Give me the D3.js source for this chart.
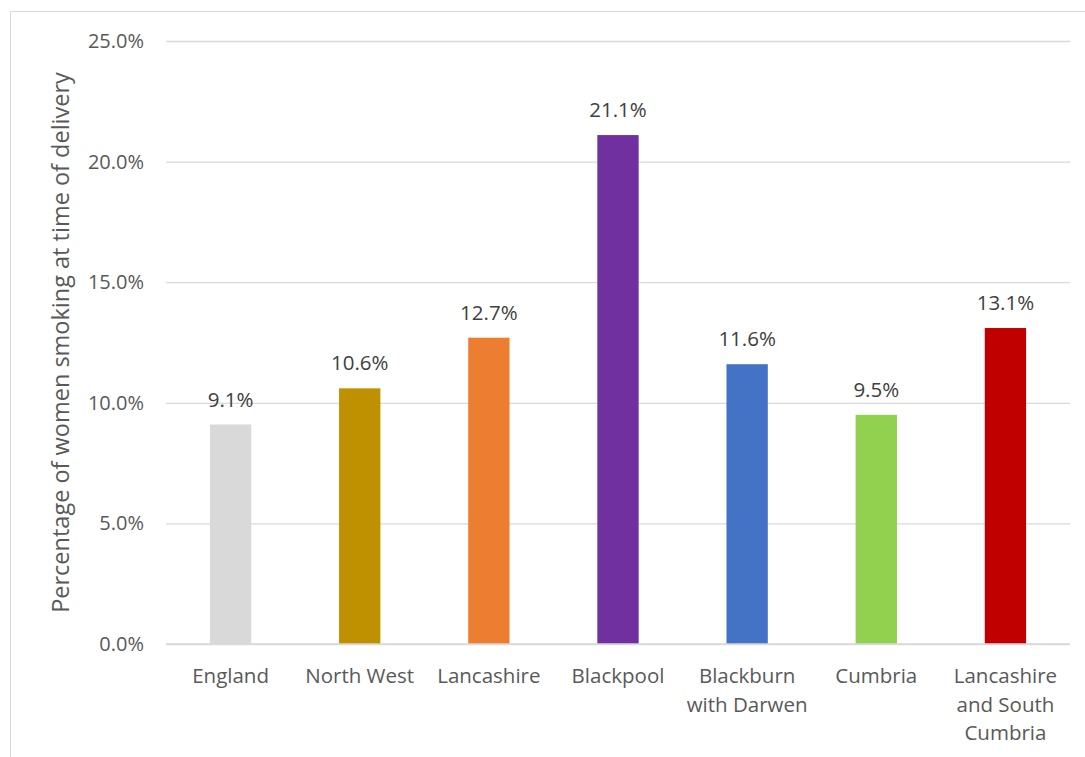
<!DOCTYPE html>
<html>
<head>
<meta charset="utf-8">
<script src="https://cdn.jsdelivr.net/npm/d3@7"></script>
<style>
  body { margin: 0; background: #fff; }
  text { font-family: "Open Sans", "Noto Sans", sans-serif; }
</style>
</head>
<body>
<div id="chart"></div>
<script>
// Chart data
let categories = ["England", "North West", "Lancashire", "Blackpool", "Blackburn with Darwen", "Cumbria", "Lancashire and South Cumbria"];
let categoryLines = [["England"], ["North West"], ["Lancashire"], ["Blackpool"], ["Blackburn", "with Darwen"], ["Cumbria"], ["Lancashire", "and South", "Cumbria"]];
let values = [9.1, 10.6, 12.7, 21.1, 11.6, 9.5, 13.1];
let barColors = ["#d9d9d9", "#bf9000", "#ed7d31", "#7030a0", "#4472c4", "#92d050", "#c00000"];
let yTicks = [0, 5, 10, 15, 20, 25];

let width = 1085, height = 757;
let margin = {top: 41, left: 166, right: 15, bottom: 113};

let svg = d3.select("#chart")
    .append("svg")
    .attr("width", width)
    .attr("height", height);

// Outer chart border
svg.append("rect")
    .attr("x", 10.5)
    .attr("y", 11.5)
    .attr("width", width + 10)
    .attr("height", height + 10)
    .attr("fill", "none")
    .attr("stroke", "#d9d9d9");

let g = svg.append("g")
    .attr("transform", `translate(${margin.left}, ${margin.top})`);

let innerW = width - margin.left - margin.right;
let innerH = height - margin.top - margin.bottom;

let x = d3.scaleBand()
    .domain(categories)
    .range([0, innerW])
    .paddingInner(0.68)
    .paddingOuter(0.34);

let y = d3.scaleLinear()
    .domain([0, 25])
    .range([innerH, 0]);

// Gridlines + y labels
let yAxis = g.append("g")
    .call(d3.axisLeft(y).tickValues(yTicks).tickSize(-innerW).tickPadding(22)
        .tickFormat(d => d.toFixed(1) + "%"));
yAxis.select(".domain").remove();
yAxis.selectAll("line").attr("stroke", "#d9d9d9").attr("stroke-width", 1.3);
yAxis.selectAll("text")
    .attr("fill", "#595959")
    .style("font-size", "20px");

// Bars
g.selectAll("rect.bar")
    .data(values)
    .enter()
    .append("rect")
    .attr("class", "bar")
    .attr("x", (d, i) => x(categories[i]))
    .attr("y", d => y(d))
    .attr("width", x.bandwidth())
    .attr("height", d => innerH - y(d))
    .attr("fill", (d, i) => barColors[i]);

// Baseline
g.append("line")
    .attr("x1", 0).attr("x2", innerW)
    .attr("y1", innerH).attr("y2", innerH)
    .attr("stroke", "#d9d9d9")
    .attr("stroke-width", 1.5);

// Data labels
g.selectAll("text.val")
    .data(values)
    .enter()
    .append("text")
    .attr("class", "val")
    .attr("x", (d, i) => x(categories[i]) + x.bandwidth() / 2)
    .attr("y", d => y(d) - 18)
    .attr("text-anchor", "middle")
    .attr("fill", "#404040")
    .style("font-size", "20.5px")
    .text(d => d.toFixed(1) + "%");

// Category labels
let catG = g.selectAll("text.cat")
    .data(categoryLines)
    .enter()
    .append("text")
    .attr("class", "cat")
    .attr("text-anchor", "middle")
    .attr("fill", "#595959")
    .style("font-size", "20.5px");
catG.selectAll("tspan")
    .data((d, i) => d.map(t => ({t: t, i: i})))
    .enter()
    .append("tspan")
    .attr("x", d => x(categories[d.i]) + x.bandwidth() / 2)
    .attr("y", (d, j) => innerH + 39 + j * 28.5)
    .text(d => d.t);

// Y axis title
g.append("text")
    .attr("transform", `translate(-97, ${innerH / 2}) rotate(-90)`)
    .attr("text-anchor", "middle")
    .attr("fill", "#595959")
    .style("font-size", "23.5px")
    .text("Percentage of women smoking at time of delivery");
</script>
</body>
</html>
